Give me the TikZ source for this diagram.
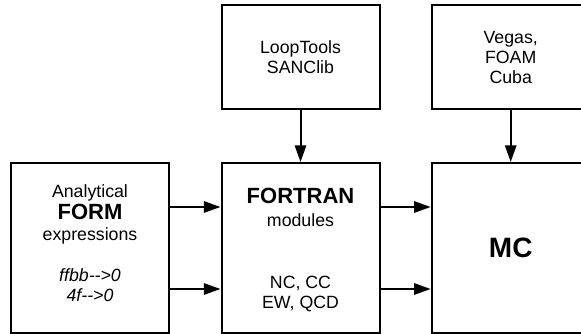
\documentclass[tikz,border=0pt]{standalone}
\usepackage{fontspec}
\setmainfont{Liberation Sans}
\usetikzlibrary{arrows.meta}

\newcommand{\arrto}{-\kern0pt-\kern0pt>}
\newcommand{\bigb}[1]{{\bfseries\fontsize{16.5}{18}\selectfont #1}}

\begin{document}
\begin{tikzpicture}[
    x=0.75pt, y=-0.75pt,
    every node/.style={align=center, font=\fontsize{13.3}{15}\selectfont},
    box/.style={draw, line width=1.5pt, minimum width=118.5pt},
    tall/.style={box, minimum height=127.5pt},
    short/.style={box, minimum height=78.5pt},
    flow/.style={line width=1.5pt, -{Triangle[length=12.5pt,width=8.5pt]}}
]
\useasboundingbox (0,0) rectangle (581,334);

% Boxes
\node[tall] (form) at (90,248) {};
\node[tall] (fortran) at (300.5,248) {};
\node[tall, font=\bfseries\fontsize{21}{24}\selectfont] (mc) at (510.7,248) {MC};
\node[short] (loop) at (300.5,57) {LoopTools\\SANClib};
\node[short] (vegas) at (510.7,57) {Vegas,\\FOAM\\Cuba};

% Texts inside the lower boxes
\node (formtop) at (90,214) {Analytical\\[1.5pt]\bigb{FORM}\\[0.75pt]expressions};
\node (formbot) at (90,285.5) {\textit{ffbb\arrto 0}\\\textit{4f\arrto 0}};
\node (fortrantop) at (300.5,207.6) {\bigb{FORTRAN}\\[2.25pt]modules};
\node (fortranbot) at (300.5,293.7) {NC, CC\\EW, QCD};

% Arrows
\draw[flow] (loop) -- (fortran);
\draw[flow] (vegas) -- (mc);
\draw[flow] ([yshift=30.75pt]form.east) -- ([yshift=30.75pt]fortran.west);
\draw[flow] ([yshift=-30.75pt]form.east) -- ([yshift=-30.75pt]fortran.west);
\draw[flow] ([yshift=30.75pt]fortran.east) -- ([yshift=30.75pt]mc.west);
\draw[flow] ([yshift=-30.75pt]fortran.east) -- ([yshift=-30.75pt]mc.west);

\end{tikzpicture}
\end{document}
